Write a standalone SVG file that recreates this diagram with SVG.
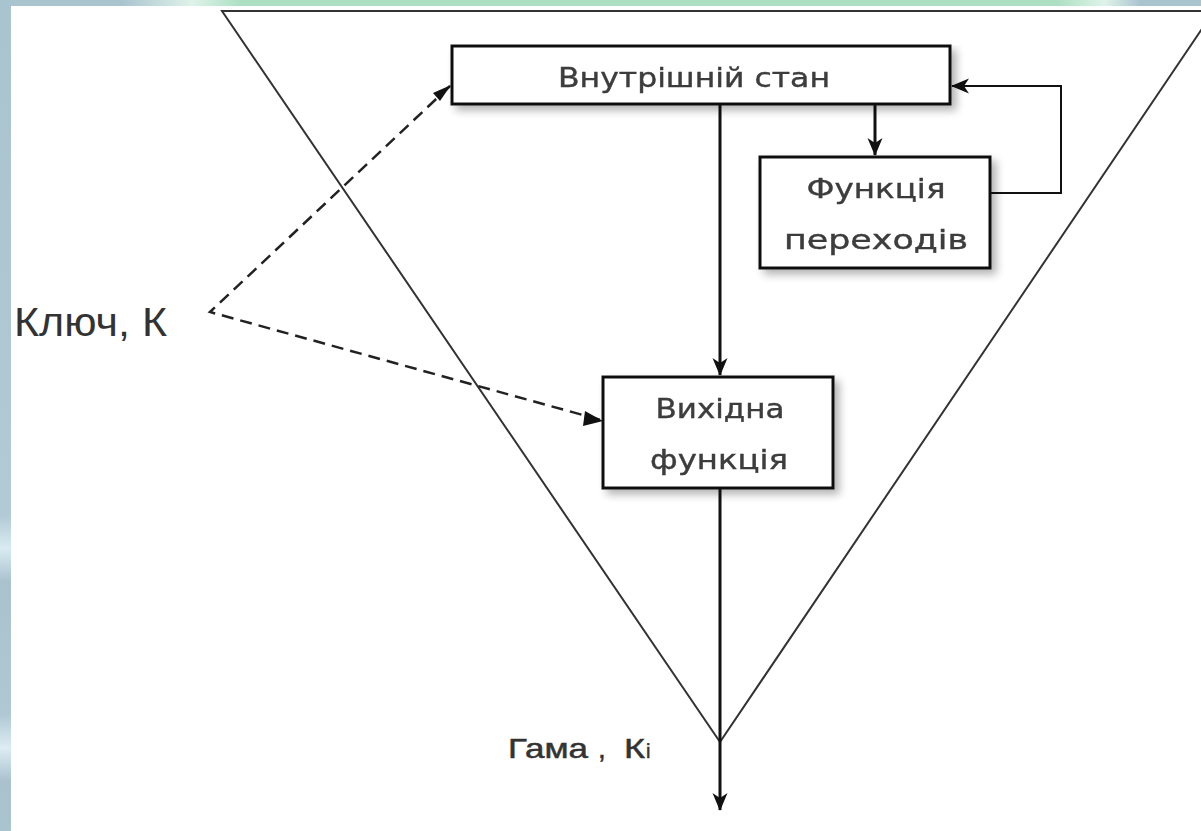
<svg xmlns="http://www.w3.org/2000/svg" width="1201" height="831" viewBox="0 0 1201 831">
<defs>
<linearGradient id="topband" x1="0" y1="0" x2="1" y2="0">
<stop offset="0" stop-color="#a9c3cf"/>
<stop offset="0.1" stop-color="#a9c3cf"/>
<stop offset="0.16" stop-color="#dff3ea"/>
<stop offset="0.2" stop-color="#ade0c3"/>
<stop offset="0.88" stop-color="#ade0c3"/>
<stop offset="0.92" stop-color="#dff3ea"/>
<stop offset="0.95" stop-color="#a9c3cf"/>
<stop offset="1" stop-color="#a9c3cf"/>
</linearGradient>
<linearGradient id="leftband" x1="0" y1="0" x2="0" y2="1">
<stop offset="0" stop-color="#a9c3cf"/>
<stop offset="0.62" stop-color="#b2cad5"/>
<stop offset="0.66" stop-color="#d8ebf2"/>
<stop offset="0.7" stop-color="#aac2ce"/>
<stop offset="0.86" stop-color="#b0c8d3"/>
<stop offset="0.9" stop-color="#dcedf3"/>
<stop offset="0.94" stop-color="#aac2ce"/>
<stop offset="1" stop-color="#a9c3cf"/>
</linearGradient>
<filter id="sh" x="-10%" y="-10%" width="130%" height="140%">
<feGaussianBlur in="SourceAlpha" stdDeviation="4"/>
<feOffset dx="5" dy="5" result="b"/>
<feComponentTransfer><feFuncA type="linear" slope="0.3"/></feComponentTransfer>
<feMerge><feMergeNode/><feMergeNode in="SourceGraphic"/></feMerge>
</filter>
<marker id="arr" viewBox="0 0 18 18" refX="17" refY="9" markerWidth="18" markerHeight="18" markerUnits="userSpaceOnUse" orient="auto">
<path d="M0,1.5 L18,9 L0,16.5 L5,9 Z" fill="#111"/>
</marker>
<style>
.box{fill:#fff;stroke:#111;stroke-width:3}
.lbl{font-family:"DejaVu Sans","Noto Sans",sans-serif;font-size:26px;fill:#3c3c3c;text-anchor:middle;stroke:#3c3c3c;stroke-width:0.4}
.con{fill:none;stroke:#111;stroke-width:3}
.dash{fill:none;stroke:#222;stroke-width:2.5;stroke-dasharray:12 7}
.tri{fill:none;stroke:#333;stroke-width:2}
.side{font-family:"Liberation Sans","Arial",sans-serif;fill:#333}
</style>
</defs>
<rect x="0" y="0" width="1201" height="831" fill="#fff"/>
<rect x="0" y="0" width="1201" height="6" fill="url(#topband)"/>
<rect x="0" y="0" width="11" height="831" fill="url(#leftband)"/>
<g id="triangle">
<path class="tri" d="M1214,11 L222,11 L720,742 L1214,11"/>
</g>
<g id="connectors">
<line class="con" x1="720" y1="104" x2="720" y2="375" marker-end="url(#arr)"/>
<line class="con" x1="875" y1="104" x2="875" y2="155" marker-end="url(#arr)"/>
<polyline class="con" points="990,193 1061,193 1061,86 952,86" style="stroke-width:2" marker-end="url(#arr)"/>
<line class="con" x1="720" y1="488" x2="720" y2="810" marker-end="url(#arr)"/>
<polyline class="dash" points="450,86 210,312 601,420"/>
<path d="M451,85 L433,93 L440,101 Z" fill="#111"/>
<path d="M603,421 L585,411 L583,426 Z" fill="#111"/>
</g>
<g id="node-state" filter="url(#sh)">
<rect class="box" x="452" y="46" width="498" height="58"/>
<text class="lbl" x="694" y="87" font-size="29" textLength="272" lengthAdjust="spacingAndGlyphs">Внутрішній стан</text>
</g>
<g id="node-transition" filter="url(#sh)">
<rect class="box" x="760" y="157" width="230" height="111"/>
<text class="lbl" x="876" y="198" textLength="139" lengthAdjust="spacingAndGlyphs">Функція</text>
<text class="lbl" x="876" y="249" textLength="184" lengthAdjust="spacingAndGlyphs">переходів</text>
</g>
<g id="node-output" filter="url(#sh)">
<rect class="box" x="603" y="377" width="230" height="111"/>
<text class="lbl" x="720" y="418" textLength="129" lengthAdjust="spacingAndGlyphs">Вихідна</text>
<text class="lbl" x="719" y="469" textLength="138" lengthAdjust="spacingAndGlyphs">функція</text>
</g>
<g id="label-key">
<text class="side" x="14" y="336" font-size="40" textLength="153" lengthAdjust="spacingAndGlyphs">Ключ, К</text>
</g>
<g id="label-gamma">
<text class="side" y="758" font-size="28" stroke="#333" stroke-width="0.5"><tspan x="508" textLength="80" lengthAdjust="spacingAndGlyphs">Гама</tspan><tspan x="598">,</tspan><tspan x="624" textLength="21" lengthAdjust="spacingAndGlyphs">К</tspan><tspan x="646" font-size="20">і</tspan></text>
</g>
</svg>
